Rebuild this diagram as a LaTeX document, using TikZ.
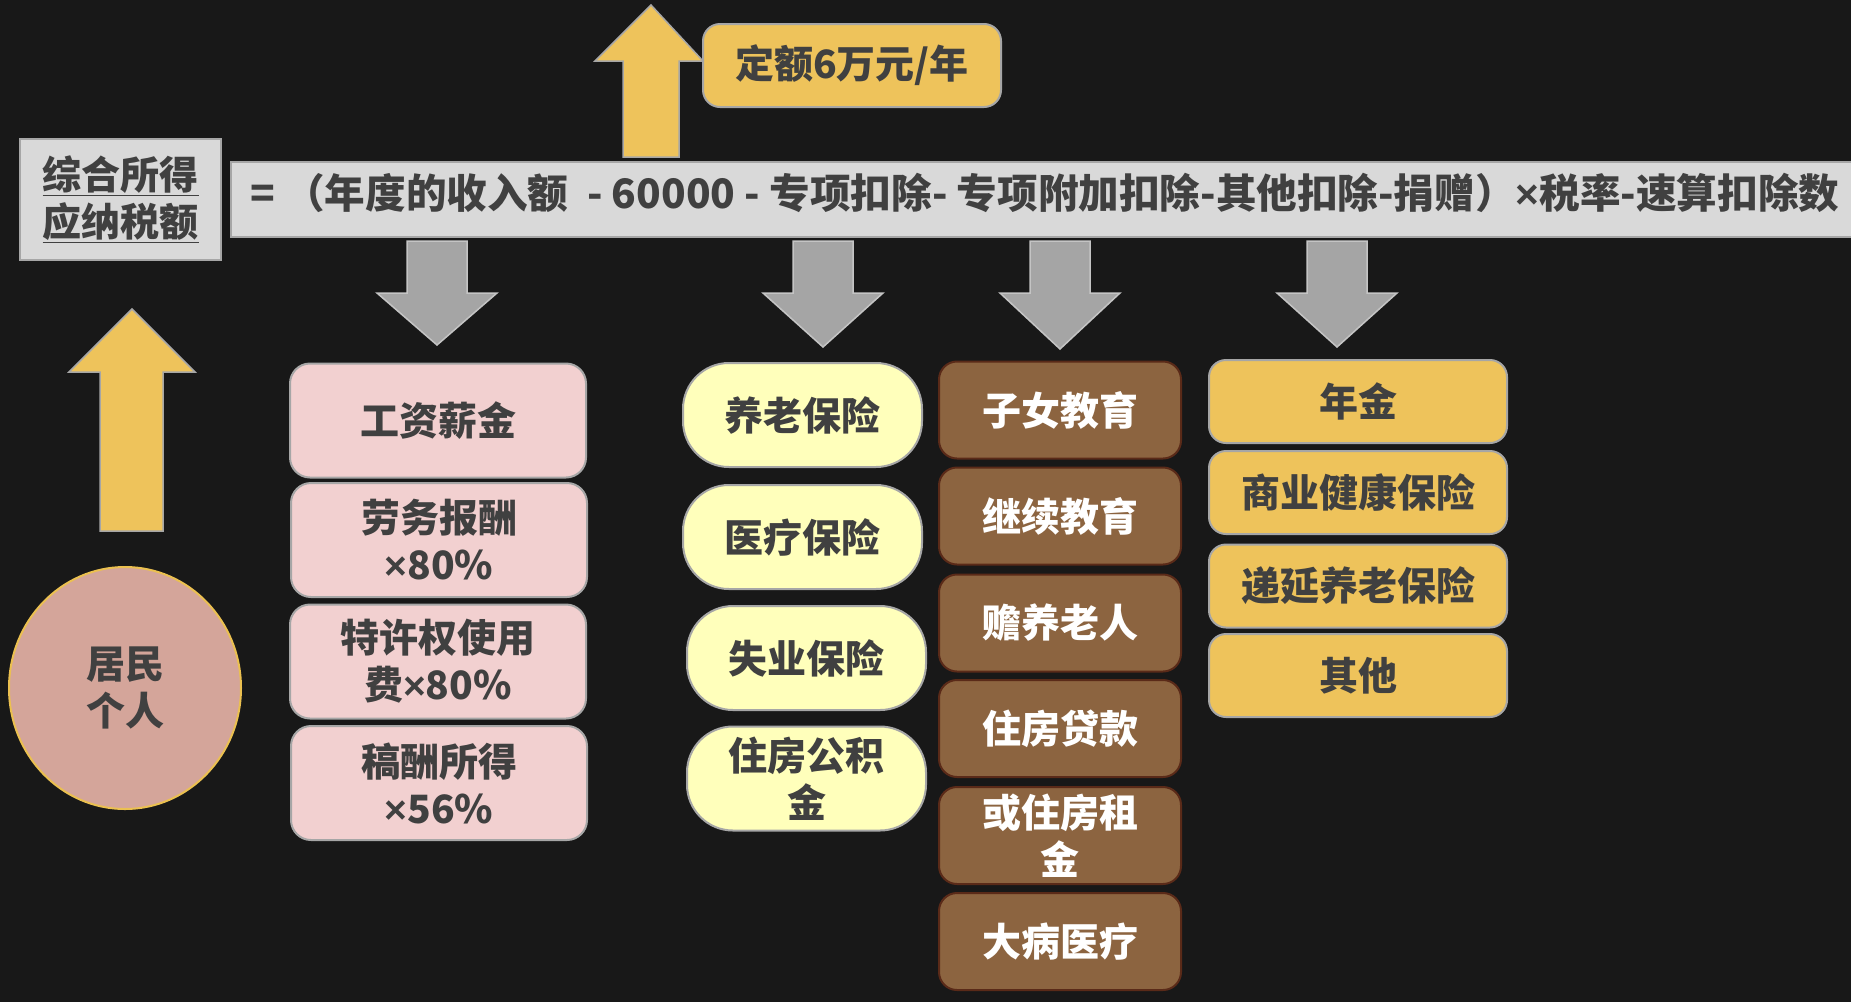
\documentclass[tikz,border=0pt]{standalone}
\usepackage{fontspec}
\usetikzlibrary{shapes.geometric}
\setmainfont{Noto Sans CJK SC}
\newfontfamily\latinf{Liberation Sans}
\newcommand\tms{{\latinf ×}}
\definecolor{bg}{HTML}{181818}
\definecolor{txt}{HTML}{404040}
\definecolor{lgray}{HTML}{D9D9D9}
\definecolor{bord}{HTML}{A6A6A6}
\definecolor{gold}{HTML}{EEC35B}
\definecolor{pinkf}{HTML}{F2D0D0}
\definecolor{pillf}{HTML}{FFFFBB}
\definecolor{brownf}{HTML}{8C6440}
\definecolor{brownb}{HTML}{5A2A18}
\definecolor{circf}{HTML}{D4A59A}
\definecolor{circb}{HTML}{EBC050}
\definecolor{arrg}{HTML}{A5A5A5}
\definecolor{arrgb}{HTML}{C4C4C4}
\newcommand\myfs{\bfseries\fontsize{39}{47}\selectfont}
\begin{document}
\begin{tikzpicture}[x=1pt,y=-1pt,
  basebox/.style={line width=2pt, inner sep=0pt, align=center, font=\myfs, text=txt},
  pinkbox/.style={basebox, draw=bord, fill=pinkf, rounded corners=20pt, minimum width=296pt, minimum height=114pt},
  pillbox/.style={basebox, draw=bord, fill=pillf, rounded corners=46pt, minimum width=239pt, minimum height=104pt},
  brownbox/.style={basebox, draw=brownb, fill=brownf, text=white, rounded corners=18pt, minimum width=242pt, minimum height=97pt},
  goldbox/.style={basebox, draw=bord, fill=gold, rounded corners=17pt, minimum width=298pt, minimum height=83pt},
  grayarrow/.style={fill=arrg, draw=arrgb, line width=1.5pt, line join=miter},
  yelarrow/.style={fill=gold, draw=bord, line width=1.5pt, line join=miter}
]
\fill[bg] (0,0) rectangle (1851,1002);
\useasboundingbox (0,0) rectangle (1851,1002);

% formula bar
\node[draw=bord, fill=lgray, line width=1.5pt, minimum width=1640pt, minimum height=75pt, inner sep=0pt, anchor=west] (bar) at (230,199.5) {};
\node[anchor=west, inner sep=0pt, font=\bfseries\fontsize{40.6}{48}\selectfont, text=txt] (formula) at (250,193) {= （年度的收入额 \ - 60000 - 专项扣除- 专项附加扣除-其他扣除-捐赠）\tms 税率-速算扣除数};

% left title box
\node[basebox, draw=bord, fill=lgray, minimum width=201pt, minimum height=121pt, line width=1.5pt] (title) at (120.5,199.5) {\underline{综合所得}\\\underline{应纳税额}};

% top yellow arrow and quota box
\draw[yelarrow] (623,157) -- (623,61) -- (595,61) -- (651,5) -- (703,61) -- (679,61) -- (679,157) -- cycle;
\node[goldbox] (quota) at (852,65.5) {定额6万元/年};

% left yellow arrow
\draw[yelarrow] (100,531) -- (100,372) -- (69,372) -- (132,309) -- (195,372) -- (163,372) -- (163,531) -- cycle;

% circle
\node[draw=circb, fill=circf, line width=2pt, ellipse, minimum width=232pt, minimum height=242pt, inner sep=0pt, font=\myfs, text=txt, align=center] (person) at (125,688) {居民\\个人};

% gray arrows
\foreach \c/\t in {437/345, 823/347, 1060/349, 1337/347}{
  \draw[grayarrow] (\c-30,241) -- (\c+30,241) -- (\c+30,293) -- (\c+60,293) -- (\c,\t) -- (\c-60,293) -- (\c-30,293) -- cycle;
}

% pink column
\node[pinkbox] (p1) at (438,420.5) {工资薪金};
\node[pinkbox] (p2) at (439,540) {劳务报酬\\\tms 80\%};
\node[pinkbox] (p3) at (438,661.5) {特许权使用\\费\tms 80\%};
\node[pinkbox] (p4) at (439,783) {稿酬所得\\\tms 56\%};

% yellow pills
\node[pillbox] (y1) at (802.5,415) {养老保险};
\node[pillbox] (y2) at (802.5,537) {医疗保险};
\node[pillbox] (y3) at (806.5,658) {失业保险};
\node[pillbox] (y4) at (806.5,778.5) {住房公积\\金};

% brown column
\node[brownbox] (b1) at (1060,410) {子女教育};
\node[brownbox] (b2) at (1060,516) {继续教育};
\node[brownbox] (b3) at (1060,623) {赡养老人};
\node[brownbox] (b4) at (1060,728.5) {住房贷款};
\node[brownbox] (b5) at (1060,835.5) {或住房租\\金};
\node[brownbox] (b6) at (1060,941.5) {大病医疗};

% gold column
\node[goldbox] (g1) at (1358,401.5) {年金};
\node[goldbox] (g2) at (1358,492.5) {商业健康保险};
\node[goldbox] (g3) at (1358,586) {递延养老保险};
\node[goldbox] (g4) at (1358,675.5) {其他};
\end{tikzpicture}
\end{document}
